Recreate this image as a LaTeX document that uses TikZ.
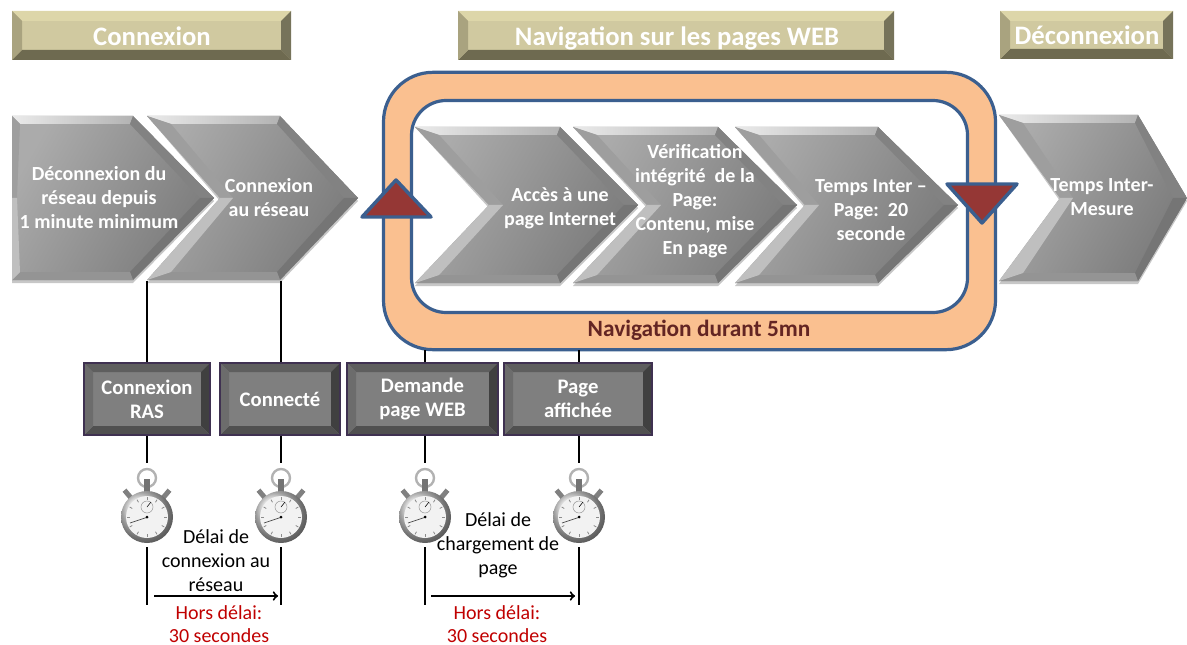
\documentclass[tikz,border=0pt]{standalone}
\usepackage{fontspec}
\setmainfont{Carlito}
\usetikzlibrary{positioning}
\definecolor{framecol}{HTML}{3B5F8F}
\definecolor{frameband}{HTML}{FAC090}
\definecolor{trianglecol}{HTML}{953735}
\definecolor{headbase}{HTML}{D0C9A0}
\definecolor{headtop}{HTML}{DDD6A9}
\definecolor{headleft}{HTML}{A9A37F}
\definecolor{headright}{HTML}{76735A}
\definecolor{headbottom}{HTML}{6E6A50}
\definecolor{statebase}{HTML}{7F7F7F}
\definecolor{statetop}{HTML}{5E5E5E}
\definecolor{stateleft}{HTML}{6C6C6C}
\definecolor{stateright}{HTML}{404040}
\definecolor{statebottom}{HTML}{505050}
\definecolor{stateedge}{HTML}{3F3151}
\definecolor{redtext}{HTML}{C00000}
\definecolor{navtext}{HTML}{632523}
\tikzstyle{chevtext} = [align=center, text=white, font=\fontsize{15}{18}\selectfont\bfseries]
\tikzstyle{headtext} = [inner sep=0pt, text=white, text height=14pt, text depth=4pt, font=\fontsize{20}{22}\selectfont\bfseries]
\tikzstyle{statetext} = [align=center, inner sep=0pt, text=white, font=\fontsize{15.5}{18}\selectfont\bfseries]
\tikzstyle{delaytext} = [align=center, font=\fontsize{15}{18}\selectfont]
\tikzstyle{limittext} = [align=center, inner sep=0pt, text=redtext, font=\fontsize{15}{17.5}\selectfont]
\tikzstyle{watchbox} = [rectangle, minimum width=30pt, minimum height=63pt, inner sep=0pt]
\tikzstyle{tline} = [black, line width=1.5pt]
\tikzstyle{arrow} = [->, >=to, line width=1.5pt]
\tikzstyle{navtriangle} = [draw=framecol, line width=2.6pt, line join=round, fill=trianglecol]
% left, notch, shoulder, tip, top, bottom, top inset, notch inset
\newcommand{\chevron}[8]{
	\fill[black!22] (#1,#6+3) -- (#3,#6+3) -- (#4,{(#5+#6)/2+3}) -- (#3,#5) -- (#1,#5) -- (#2,{(#5+#6)/2+3}) -- cycle;
	\shade[left color=black!33, right color=black!52, shading angle=60] (#1,#5) -- (#3,#5) -- (#4,{(#5+#6)/2}) -- (#3,#6) -- (#1,#6) -- (#2,{(#5+#6)/2}) -- cycle;
	\shade[left color=black!8, right color=black!30] (#1,#5) -- (#3,#5) -- (#3-3,#5+8) -- (#1+#7,#5+8) -- cycle;
	\fill[black!49] (#3,#5) -- (#4,{(#5+#6)/2}) -- (#4-14,{(#5+#6)/2}) -- (#3-3,#5+8) -- cycle;
	\fill[black!54] (#4,{(#5+#6)/2}) -- (#3,#6) -- (#3-3,#6-8) -- (#4-14,{(#5+#6)/2}) -- cycle;
	\fill[black!42] (#3,#6) -- (#1,#6) -- (#1+#7,#6-8) -- (#3-3,#6-8) -- cycle;
	\fill[black!38] (#1,#5) -- (#2,{(#5+#6)/2}) -- (#2+#8,{(#5+#6)/2}) -- (#1+#7,#5+8) -- cycle;
	\fill[black!25] (#1,#6) -- (#2,{(#5+#6)/2}) -- (#2+#8,{(#5+#6)/2}) -- (#1+#7,#6-8) -- cycle;
}
% colour prefix, x1, y1, x2, y2, bevel
\newcommand{\bevelbox}[6]{
	\fill[#1base] (#2,#3) rectangle (#4,#5);
	\fill[#1top] (#2,#3) -- (#4,#3) -- (#4-#6,#3+#6) -- (#2+#6,#3+#6) -- cycle;
	\fill[#1right] (#4,#3) -- (#4,#5) -- (#4-#6,#5-#6) -- (#4-#6,#3+#6) -- cycle;
	\fill[#1bottom] (#4,#5) -- (#2,#5) -- (#2+#6,#5-#6) -- (#4-#6,#5-#6) -- cycle;
	\fill[#1left] (#2,#5) -- (#2,#3) -- (#2+#6,#3+#6) -- (#2+#6,#5-#6) -- cycle;
}
\newcommand{\stopwatch}[2]{
	\begin{scope}[shift={(#1,#2)}]
		\draw[black!30, line width=1.8pt] (0,-39) circle (9);
		\fill[black!55] (-3,-38) rectangle (3,-24);
		\fill[black!50, rotate=40] (-2.5,-35) rectangle (2.5,-24);
		\fill[black!50, rotate=-40] (-2.5,-35) rectangle (2.5,-24);
		\shade[ball color=black!12] (0,0) circle (26);
		\fill[white!95!black] (0,0) circle (21);
		\foreach \a in {0,30,...,330} {
			\draw[black!45, line width=0.6pt] (\a:17) -- (\a:20);
		}
		\draw[black!40] (0,-10) circle (6);
		\draw[black, line width=0.4pt] (0,-10) -- (4,-15);
		\draw[black!70, line width=0.5pt] (-17,6) -- (1,0);
		\fill[black] (0,0) circle (1.5);
	\end{scope}
}
\begin{document}
\begin{tikzpicture}[x=0.75pt, y=-0.75pt]
	\useasboundingbox (0,0) rectangle (1187,645);

	% set up phase headers
	\bevelbox{head}{12}{11}{291}{60}{10}
	\bevelbox{head}{458}{11}{894}{60}{10}
	\bevelbox{head}{1000}{11}{1173}{59}{10}
	\node (connexion) [headtext] at (152,39) {Connexion};
	\node (navigation) [headtext] at (677,39) {Navigation sur les pages WEB};
	\node (deconnexion) [headtext] at (1087,38) {Déconnexion};

	% set up navigation loop
	\node (loopouter) [rectangle, draw=framecol, line width=2.4pt, fill=frameband, rounded corners=37pt, minimum width=459pt, minimum height=208pt] at (689.5,211) {};
	\node (loopinner) [rectangle, draw=framecol, line width=2.4pt, fill=white, rounded corners=26pt, minimum width=417pt, minimum height=159pt] at (689.5,206.5) {};
	\node (looplabel) [text=navtext, font=\fontsize{17.5}{20}\selectfont\bfseries] at (699,330) {Navigation durant 5mn};

	% set up chevrons
	\chevron{12}{12}{133}{214}{116}{280}{8}{5}
	\chevron{147}{220}{280}{358}{116}{280}{24}{13}
	\chevron{415}{489}{560}{638}{127}{283}{24}{14}
	\chevron{573}{647}{718}{797}{127}{283}{24}{14}
	\chevron{735}{805}{878}{958}{127}{283}{24}{14}
	\chevron{999}{1060}{1138}{1187}{115}{281}{24}{13}
	\node (deco) [chevtext] at (99,198) {Déconnexion du\\réseau depuis\\1 minute minimum};
	\node (conn) [chevtext] at (269,198) {Connexion\\au réseau};
	\node (acces) [chevtext] at (560,208) {Accès à une\\page Internet};
	\node (verif) [chevtext] at (695,201) {Vérification\\intégrité~~de la\\Page:\\Contenu, mise\\En page};
	\node (temps) [chevtext] at (871,210) {Temps Inter –\\Page:~~20\\seconde};
	\node (mesure) [chevtext] at (1102,197) {Temps Inter-\\Mesure};

	% set up loop triangles
	\node (up) [coordinate] at (396,180) {};
	\node (down) [coordinate] at (982,223) {};
	\draw[navtriangle] (up) -- (362,217) -- (431,217) -- cycle;
	\draw[navtriangle] (down) -- (947,184) -- (1017,184) -- cycle;

	% set up state boxes
	\bevelbox{state}{84}{363}{210}{435}{9}
	\bevelbox{state}{220}{363}{340}{435}{9}
	\bevelbox{state}{347}{363}{498}{435}{9}
	\bevelbox{state}{504}{363}{652}{435}{9}
	\node (ras) [statetext, draw=stateedge, line width=1.5pt, minimum width=94.5pt, minimum height=54pt] at (147,399) {\raisebox{-1pt}{Connexion}\\\raisebox{-1pt}{RAS}};
	\node (connecte) [statetext, draw=stateedge, line width=1.5pt, minimum width=90pt, minimum height=54pt] at (280,399) {\raisebox{-1pt}{Connecté}};
	\node (demande) [statetext, draw=stateedge, line width=1.5pt, minimum width=113pt, minimum height=54pt] at (422.5,399) {\raisebox{-1pt}{Demande}\\\raisebox{-1pt}{page WEB}};
	\node (page) [statetext, draw=stateedge, line width=1.5pt, minimum width=111pt, minimum height=54pt] at (578,399) {\raisebox{-1pt}{Page}\\\raisebox{-1pt}{affichée}};

	% set up stopwatches
	\foreach \x/\n in {147/wa, 281/wb, 425/wc, 579/wd} {
		\stopwatch{\x}{517}
		\node (\n) [watchbox] at (\x,505) {};
	}

	% set up vertical lines
	\coordinate (ta) at (147,281);
	\coordinate (tb) at (281,281);
	\coordinate (tc) at (425,350);
	\coordinate (td) at (579,350);
	\coordinate (ba) at (147,605);
	\coordinate (bb) at (281,605);
	\coordinate (bc) at (425,605);
	\coordinate (bd) at (579,605);
	\draw[tline] (ta) -- (ta |- ras.north);
	\draw[tline] (tb) -- (tb |- connecte.north);
	\draw[tline] (tc) -- (tc |- demande.north);
	\draw[tline] (td) -- (td |- page.north);
	\draw[tline] (wa.north |- ras.south) -- (wa.north);
	\draw[tline] (wb.north |- connecte.south) -- (wb.north);
	\draw[tline] (wc.north |- demande.south) -- (wc.north);
	\draw[tline] (wd.north |- page.south) -- (wd.north);
	\draw[tline] (wa.south) -- (ba);
	\draw[tline] (wb.south) -- (bb);
	\draw[tline] (wc.south) -- (bc);
	\draw[tline] (wd.south) -- (bd);

	% set up delays
	\node (delaya) [delaytext] at (216,561) {Délai de\\connexion au\\réseau};
	\node (delayb) [delaytext] at (498,545) {Délai de\\chargement de\\page};
	\coordinate (aa) at (154,596);
	\coordinate (ab) at (278,596);
	\coordinate (ac) at (431,596);
	\coordinate (ad) at (575,596);
	\draw[arrow] (aa) -- (ab);
	\draw[arrow] (ac) -- (ad);
	\node (limita) [limittext] at (219,624) {Hors délai:\\30 secondes};
	\node (limitb) [limittext] at (497,624) {Hors délai:\\30 secondes};

\end{tikzpicture}
\end{document}
